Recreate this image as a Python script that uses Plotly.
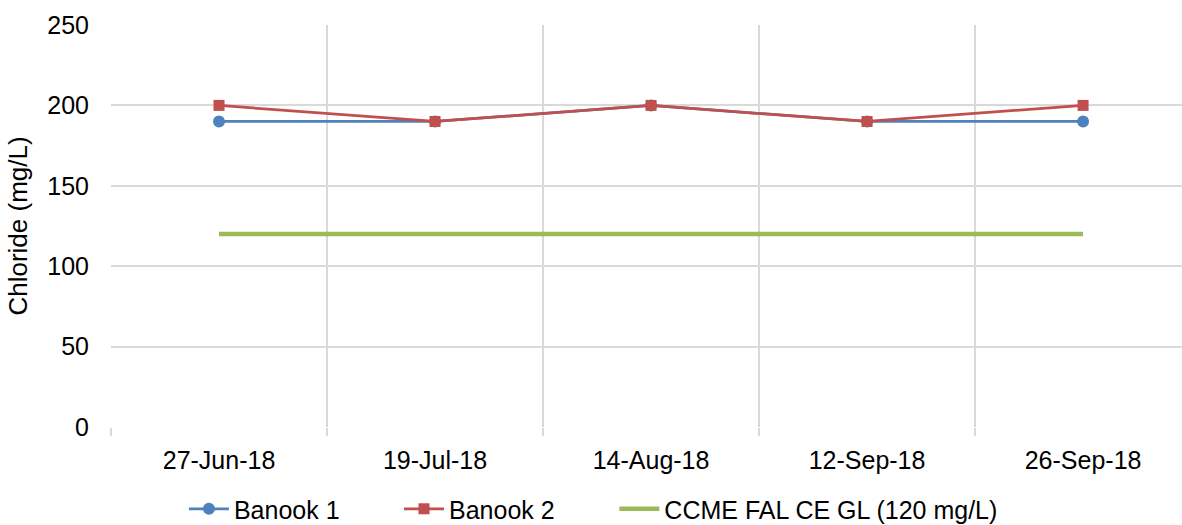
import plotly.graph_objects as go

dates = ["27-Jun-18", "19-Jul-18", "14-Aug-18", "12-Sep-18", "26-Sep-18"]
banook1 = [190, 190, 200, 190, 190]
banook2 = [200, 190, 200, 190, 200]
guideline = [120, 120, 120, 120, 120]
y_ticks = [0, 50, 100, 150, 200, 250]

FONT = "Liberation Sans, Arial, sans-serif"

fig = go.Figure()
fig.add_trace(go.Scatter(
    x=dates, y=banook1, name="Banook 1", mode="lines+markers",
    line=dict(color="#4F81BD", width=2.75),
    marker=dict(symbol="circle", size=12, color="#4F81BD"),
    legend="legend",
))
fig.add_trace(go.Scatter(
    x=dates, y=banook2, name="Banook 2", mode="lines+markers",
    line=dict(color="#C0504D", width=2.75),
    marker=dict(symbol="square", size=11, color="#C0504D"),
    legend="legend2",
))
fig.add_trace(go.Scatter(
    x=dates, y=guideline, name="CCME FAL CE GL (120 mg/L)", mode="lines",
    line=dict(color="#9BBB59", width=4.5),
    legend="legend3",
))

leg_common = dict(orientation="h", y=-0.204, yanchor="middle", xanchor="left",
                  font=dict(size=25), itemwidth=40, bgcolor="rgba(0,0,0,0)")

fig.update_layout(
    width=1182, height=525,
    margin=dict(l=111, r=0, t=25, b=98, autoexpand=False),
    paper_bgcolor="white", plot_bgcolor="white",
    font=dict(family=FONT, size=25, color="#000000"),
    showlegend=True,
    legend=dict(x=0.0681, **leg_common),
    legend2=dict(x=0.2689, **leg_common),
    legend3=dict(x=0.4700, **leg_common),
    xaxis=dict(
        type="category", categoryorder="array", categoryarray=dates,
        range=[-0.5, 4.458], tickson="boundaries",
        showgrid=True, gridcolor="#D9D9D9", gridwidth=1.5,
        ticks="outside", ticklen=8, tickcolor="#D9D9D9", tickwidth=1.5,
        showline=False, zeroline=False,
        tickfont=dict(size=25), ticklabelstandoff=16,
    ),
    yaxis=dict(
        range=[0, 250], tickvals=y_ticks, ticktext=[str(v) for v in y_ticks],
        showgrid=True, gridcolor="#D9D9D9", gridwidth=1.5,
        zeroline=False, showline=False, ticks="",
        tickfont=dict(size=25), ticklabelstandoff=21,
        title=dict(text="Chloride (mg/L)", font=dict(size=26), standoff=12),
    ),
)

fig.write_html("out.html", config={"displayModeBar": False},
               post_script="document.body.style.margin='0';window.dispatchEvent(new Event('resize'));")
